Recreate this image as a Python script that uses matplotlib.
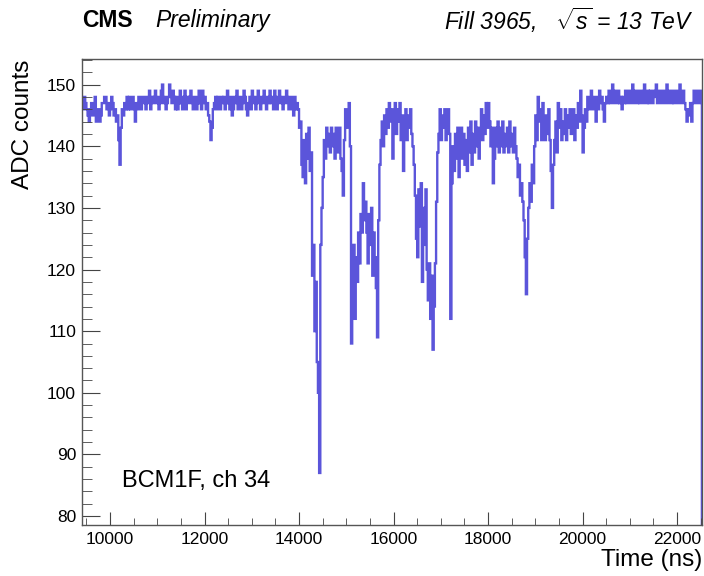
import numpy as np
import matplotlib
matplotlib.use("Agg")
import matplotlib.pyplot as plt
from matplotlib.ticker import MultipleLocator

plt.rcParams["font.family"] = ["Liberation Sans", "DejaVu Sans"]
plt.rcParams["mathtext.fontset"] = "custom"
plt.rcParams["mathtext.rm"] = "Liberation Sans:italic"
plt.rcParams["mathtext.it"] = "Liberation Sans:italic"

# BCM1F channel 34 signal, 25 ns bins starting at 9400 ns
bin_start = 9400
bin_width = 25
adc = [
    147, 146, 148, 147, 146, 145, 144, 146, 147, 145, 146, 148, 144, 146, 146, 144, 145, 147, 147, 148,
    148, 146, 147, 145, 146, 148, 147, 145, 146, 144, 145, 141, 137, 143, 146, 145, 147, 146, 148, 146,
    148, 146, 147, 148, 146, 144, 147, 146, 148, 147, 146, 148, 148, 147, 146, 148, 147, 149, 146, 148,
    147, 148, 149, 147, 148, 146, 147, 149, 150, 147, 148, 146, 147, 148, 150, 148, 147, 149, 148, 146,
    148, 146, 147, 149, 147, 146, 148, 149, 146, 148, 147, 148, 149, 147, 146, 148, 148, 146, 147, 149,
    147, 146, 149, 147, 148, 146, 147, 145, 144, 141, 143, 146, 147, 148, 146, 148, 147, 146, 148, 147,
    148, 146, 147, 149, 147, 146, 148, 145, 146, 148, 147, 149, 146, 147, 148, 146, 147, 149, 148, 146,
    145, 147, 148, 146, 149, 147, 148, 146, 147, 149, 148, 146, 147, 148, 149, 147, 146, 148, 147, 149,
    147, 148, 146, 149, 148, 146, 147, 149, 148, 147, 146, 148, 147, 149, 148, 146, 147, 148, 146, 145,
    148, 146, 147, 146, 143, 144, 137, 135, 141, 134, 142, 138, 143, 136, 139, 119, 124, 110, 118, 105,
    100, 87, 124, 130, 135, 141, 138, 143, 140, 142, 139, 143, 140, 142, 138, 143, 141, 139, 143, 138,
    136, 132, 141, 146, 143, 145, 147, 140, 108, 121, 124, 112, 122, 118, 126, 121, 129, 126, 134, 128,
    131, 126, 121, 129, 124, 130, 119, 126, 122, 117, 109, 128, 137, 141, 144, 140, 145, 142, 146, 143,
    147, 144, 146, 138, 145, 147, 142, 146, 144, 147, 141, 145, 136, 143, 146, 141, 145, 143, 146, 142,
    140, 137, 132, 125, 122, 133, 127, 134, 118, 130, 124, 133, 120, 115, 121, 112, 119, 107, 114, 121,
    131, 139, 142, 146, 141, 145, 143, 146, 141, 145, 146, 142, 112, 134, 140, 136, 142, 138, 143, 135,
    140, 143, 138, 142, 137, 141, 136, 143, 139, 144, 137, 142, 139, 144, 140, 143, 138, 142, 146, 141,
    145, 142, 147, 143, 147, 144, 140, 143, 134, 138, 143, 140, 144, 139, 143, 140, 144, 139, 142, 140,
    143, 139, 144, 140, 142, 139, 143, 140, 138, 135, 137, 132, 134, 131, 128, 122, 116, 125, 130, 134,
    131, 137, 134, 140, 145, 141, 148, 144, 146, 141, 147, 143, 141, 145, 142, 146, 141, 136, 130, 137,
    141, 144, 139, 147, 143, 146, 141, 144, 142, 146, 141, 145, 143, 146, 142, 144, 146, 141, 145, 143,
    147, 144, 149, 145, 139, 143, 146, 144, 148, 146, 147, 149, 146, 148, 147, 144, 148, 146, 149, 147,
    148, 146, 144, 147, 148, 147, 149, 147, 148, 150, 147, 149, 148, 147, 149, 147, 148, 146, 148, 147,
    149, 147, 148, 149, 147, 148, 150, 147, 149, 148, 147, 149, 147, 148, 149, 147, 150, 148, 147, 149,
    147, 149, 148, 147, 149, 148, 150, 147, 148, 149, 147, 148, 149, 147, 148, 150, 147, 149, 148, 147,
    149, 147, 148, 149, 147, 148, 150, 147, 148, 149, 147, 146, 144, 146, 145, 147, 144, 147, 149, 148,
    147, 149, 148, 147, 149,
]
edges = bin_start + bin_width * np.arange(len(adc) + 1)

fig = plt.figure(figsize=(7.04, 5.76), dpi=100)
ax = fig.add_axes([0.116, 0.089, 0.881, 0.808])

ax.stairs(adc, edges, color="#5B55DA", lw=1.7)

ax.set_xlim(9400, 22525)
ax.set_ylim(78.6, 154.1)

ax.xaxis.set_major_locator(MultipleLocator(2000))
ax.xaxis.set_minor_locator(MultipleLocator(500))
ax.yaxis.set_major_locator(MultipleLocator(10))
ax.yaxis.set_minor_locator(MultipleLocator(2))

ax.tick_params(axis="both", which="both", direction="in", colors="#444444",
               labelcolor="black", labelsize=12.5, top=False, right=False)
ax.tick_params(axis="x", which="major", length=9.5, pad=5)
ax.tick_params(axis="x", which="minor", length=5)
ax.tick_params(axis="y", which="major", length=13, pad=4)
ax.tick_params(axis="y", which="minor", length=7.2)
for s in ax.spines.values():
    s.set_color("#555555")
    s.set_linewidth(1.0)

ax.set_xlabel("Time (ns)", fontsize=17.5, loc="right", labelpad=2)
ax.set_ylabel("ADC counts", fontsize=17.5, loc="top", labelpad=9)

ax.text(0.065, 0.094, "BCM1F, ch 34", transform=ax.transAxes, fontsize=17,
        ha="left", va="center")

fig.text(0.116, 0.964, "CMS", fontsize=16.5, fontweight="bold", ha="left", va="center")
fig.text(0.22, 0.964, "Preliminary", fontsize=16.5, style="italic", ha="left", va="center")
fig.text(0.985, 0.964, r"Fill 3965,   $\sqrt{s}$ = 13 TeV", fontsize=16.5, style="italic",
         ha="right", va="center")

fig.savefig("out.png", dpi=100)
